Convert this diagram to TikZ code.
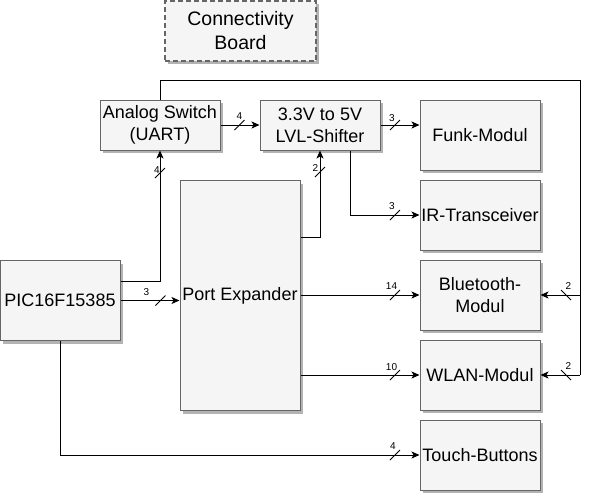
\documentclass[tikz,border=0pt]{standalone}
\usepackage{fontspec}
\setmainfont{Liberation Sans}
\usetikzlibrary{shadows,arrows.meta}
\definecolor{boxfill}{HTML}{F5F5F5}
\definecolor{boxline}{HTML}{666666}
\definecolor{shadowgray}{HTML}{B3B3B3}
\begin{document}
\begin{tikzpicture}[x=1pt,y=-1pt,
  box/.style={draw=boxline, fill=boxfill, line width=1pt, minimum width=120pt,
    minimum height=70pt, align=center, inner sep=1pt,
    font=\fontsize{18}{22}\selectfont,
    drop shadow={shadow xshift=3pt, shadow yshift=-3pt, fill=shadowgray, opacity=1}},
  conn/.style={draw=black, line width=1pt, -{Stealth[length=8pt,width=7pt,inset=2pt]}},
  wire/.style={draw=black, line width=1pt},
  buslbl/.style={font=\fontsize{10}{11}\selectfont, inner sep=0pt},
  bs/.pic={\draw[line width=0.8pt] (-5,5) -- (5,-5);},
  bsr/.pic={\draw[line width=0.8pt] (-5,-5) -- (5,5);},
  ]
\useasboundingbox (0,0) rectangle (590,496);

% helper coordinates
\coordinate (y281) at (0,281);
\coordinate (y237) at (0,237);
\coordinate (x350) at (350,0);
\coordinate (tr) at (580,80);

% boxes
\node[box, minimum width=151pt, minimum height=60pt, line width=1.5pt,
  dash pattern=on 5pt off 3pt, font=\fontsize{19.5}{24}\selectfont] (board) at (240.5,31) {Connectivity\\Board};
\node[box, minimum height=50pt] (as) at (160,125) {Analog Switch\\(UART)};
\node[box, minimum height=50pt] (lvl) at (320,125) {3.3V to 5V\\LVL-Shifter};
\node[box] (funk) at (480,135) {Funk-Modul};
\node[box] (ir) at (480,215) {IR-Transceiver};
\node[box] (bt) at (480,295) {Bluetooth-\\Modul};
\node[box] (wlan) at (480,375) {WLAN-Modul};
\node[box] (touch) at (480,455) {Touch-Buttons};
\node[box, minimum height=80pt] (pic) at (60,300.5) {PIC16F15385};
\node[box, minimum height=230pt] (pe) at (240,295.5) {Port Expander};

% connectors
\draw[conn] (pic.east |- y281) -| (as.south);
\draw[conn] (pic.east) -- (pic.east -| pe.west);
\draw[conn] (pe.east |- y237) -| (lvl.south);
\draw[conn] (as.east) -- (lvl.west);
\draw[conn] (lvl.east) -- (lvl.east -| funk.west);
\draw[conn] (lvl.south -| x350) |- (ir.west);
\draw[conn] (pe.east |- bt.west) -- (bt.west);
\draw[conn] (pe.east |- wlan.west) -- (wlan.west);
\draw[conn] (pic.south) |- (touch.west);
\draw[wire] (as.north) |- (tr) -- (tr |- wlan.east);
\draw[conn] (tr |- bt.east) -- (bt.east);
\draw[conn] (tr |- wlan.east) -- (wlan.east);

% bus markers
\pic at (239.5,125) {bs};
\pic at (160.5,300.5) {bs};
\pic at (160,173) {bs};
\pic at (320,172) {bs};
\pic at (395,125) {bs};
\pic at (395,215) {bs};
\pic at (395,295) {bs};
\pic at (395,375) {bs};
\pic at (395,455) {bs};
\pic at (566,295) {bsr};
\pic at (566,375) {bsr};

% bus labels
\node[buslbl] (l1) at (239.5,116.5) {4};
\node[buslbl] (l2) at (146.5,292) {3};
\node[buslbl] (l3) at (157,170) {4};
\node[buslbl] (l4) at (315.5,168) {2};
\node[buslbl] (l5) at (392,118.5) {3};
\node[buslbl] (l6) at (392,206) {3};
\node[buslbl] (l7) at (391.5,286.5) {14};
\node[buslbl] (l8) at (391.5,367) {10};
\node[buslbl] (l9) at (393,446.5) {4};
\node[buslbl] (l10) at (568.5,286.5) {2};
\node[buslbl] (l11) at (568.5,366.5) {2};
\end{tikzpicture}
\end{document}
